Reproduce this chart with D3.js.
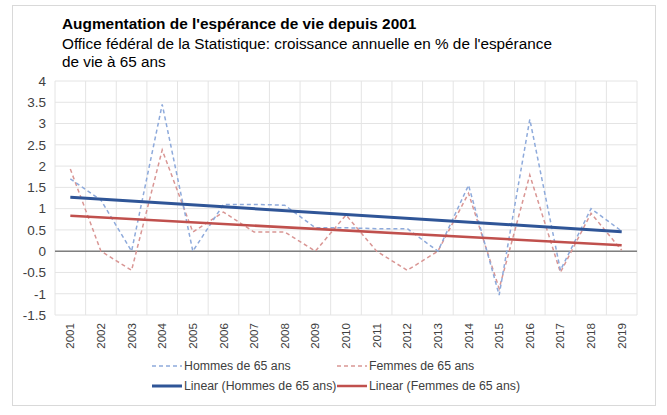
<!DOCTYPE html>
<html><head><meta charset="utf-8">
<script src="https://cdn.jsdelivr.net/npm/d3@7"></script>
<style>body{margin:0;background:#fff;}svg{display:block;font-family:"Liberation Sans",Arial,sans-serif;}</style>
</head><body>
<svg id="c" width="667" height="415"></svg>
<script>
const years = ["2001","2002","2003","2004","2005","2006","2007","2008","2009","2010","2011","2012","2013","2014","2015","2016","2017","2018","2019"];
const hommes = [1.70,1.20,0.00,3.45,0.00,1.10,1.10,1.08,0.55,0.55,0.53,0.53,0.00,1.55,-1.03,3.10,-0.45,1.00,0.47];
const femmes = [1.93,0.00,-0.45,2.38,0.45,0.92,0.45,0.45,0.00,0.85,0.00,-0.45,0.00,1.36,-0.88,1.79,-0.50,0.89,0.02];
const yTicks = [-1.5,-1,-0.5,0,0.5,1,1.5,2,2.5,3,3.5,4];
const title = "Augmentation de l'espérance de vie depuis 2001";
const subtitle = ["Office fédéral de la Statistique: croissance annuelle en % de l'espérance","de vie à 65 ans"];
const seriesNames = ["Hommes de 65 ans","Femmes de 65 ans"];

const svg = d3.select("#c");
const L = 55, R = 637, T = 81, B = 315;
const x = d3.scaleBand().domain(years).range([L, R]);
const y = d3.scaleLinear().domain([-1.5, 4]).range([B, T]);
const cx = d => x(d) + x.bandwidth() / 2;

// outer frame
svg.append("rect").attr("x", 12.5).attr("y", 5.5).attr("width", 643).attr("height", 400)
  .attr("fill", "none").attr("stroke", "#d9d9d9").attr("stroke-width", 1);

// titles
svg.append("text").attr("x", 62).attr("y", 29).attr("font-size", 15.4).attr("font-weight", "bold").attr("fill", "#000").text(title);
subtitle.forEach((s, i) => svg.append("text").attr("x", 62).attr("y", 49 + i * 18).attr("font-size", 15.3).attr("fill", "#000").text(s));

// grid
const g = svg.append("g");
g.selectAll(".hg").data(yTicks).join("line")
  .attr("x1", L).attr("x2", R).attr("y1", d => y(d)).attr("y2", d => y(d))
  .attr("stroke", "#e4e4e4").attr("stroke-width", 1);
const bounds = years.map(d => x(d)).concat([R]);
g.selectAll(".vg").data(bounds).join("line")
  .attr("x1", d => d).attr("x2", d => d).attr("y1", T).attr("y2", B)
  .attr("stroke", "#e4e4e4").attr("stroke-width", 1);

// y axis
const ya = svg.append("g").attr("transform", `translate(${L},0)`)
  .call(d3.axisLeft(y).tickValues(yTicks).tickSize(0).tickPadding(9).tickFormat(d => String(d)));
ya.select(".domain").remove();
ya.selectAll("text").attr("font-size", 13.5).attr("fill", "#404040").attr("font-family", '"Liberation Sans",Arial,sans-serif');

// x axis
const xa = svg.append("g").attr("transform", `translate(0,${B})`)
  .call(d3.axisBottom(x).tickSize(0).tickPadding(0));
xa.select(".domain").remove();
xa.selectAll("text").attr("font-size", 11.6).attr("fill", "#404040").attr("font-family", '"Liberation Sans",Arial,sans-serif')
  .attr("text-anchor", "end").attr("dy", "0.35em").attr("transform", "translate(0,8) rotate(-90)").attr("x", 0).attr("y", 0);

// zero line
svg.append("line").attr("x1", L).attr("x2", R).attr("y1", y(0)).attr("y2", y(0))
  .attr("stroke", "#7f7f7f").attr("stroke-width", 1.5);

const colBlue = "#8eaadb", colRed = "#d99694", trBlue = "#2f5597", trRed = "#c0504d";
const line = d3.line().x((d, i) => cx(years[i])).y(d => y(d));

function trend(vals) {
  const n = vals.length, mx = (n - 1) / 2, my = d3.mean(vals);
  let sxy = 0, sxx = 0;
  vals.forEach((v, i) => { sxy += (i - mx) * (v - my); sxx += (i - mx) * (i - mx); });
  const b = sxy / sxx, a = my - b * mx;
  return [a, a + b * (n - 1)];
}

svg.append("path").attr("d", line(femmes)).attr("fill", "none").attr("stroke", colRed).attr("stroke-width", 1.5).attr("stroke-dasharray", "4,3");
svg.append("path").attr("d", line(hommes)).attr("fill", "none").attr("stroke", colBlue).attr("stroke-width", 1.5).attr("stroke-dasharray", "4,3");

const th = trend(hommes), tf = trend(femmes);
const tline = d3.line().x(d => cx(years[d[0]])).y(d => y(d[1]));
svg.append("path").attr("d", tline([[0, th[0]], [years.length - 1, th[1]]])).attr("stroke", trBlue).attr("stroke-width", 3).attr("fill", "none");
svg.append("path").attr("d", tline([[0, tf[0]], [years.length - 1, tf[1]]])).attr("stroke", trRed).attr("stroke-width", 2.5).attr("fill", "none");

// legend
const legend = [
  {x: 152, y: 366, c: colBlue, dash: "4,3", w: 1.5, t: seriesNames[0]},
  {x: 337, y: 366, c: colRed, dash: "4,3", w: 1.5, t: seriesNames[1]},
  {x: 152, y: 386, c: trBlue, dash: null, w: 3, t: "Linear (" + seriesNames[0] + ")"},
  {x: 337, y: 386, c: trRed, dash: null, w: 2.5, t: "Linear (" + seriesNames[1] + ")"}
];
const lg = svg.append("g").selectAll("g").data(legend).join("g");
lg.append("line").attr("x1", d => d.x).attr("x2", d => d.x + 30).attr("y1", d => d.y).attr("y2", d => d.y)
  .attr("stroke", d => d.c).attr("stroke-width", d => d.w).attr("stroke-dasharray", d => d.dash);
lg.append("text").attr("x", d => d.x + 32).attr("y", d => d.y).attr("dy", "0.35em")
  .attr("font-size", 12.3).attr("fill", "#404040").text(d => d.t);
</script>
</body></html>
